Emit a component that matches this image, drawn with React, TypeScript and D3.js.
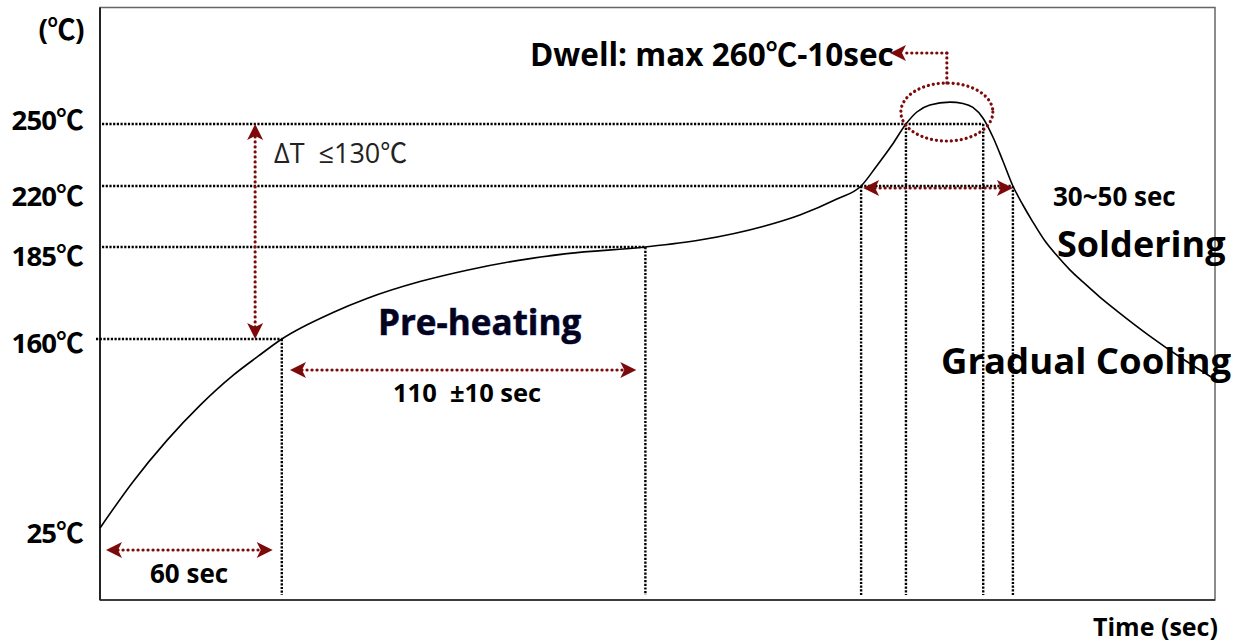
import React from 'react';
import * as d3 from 'd3';

// Reflow profile: time (sec) vs temperature (℃), schematic axis
const tempTicks = [25, 160, 185, 220, 250];
const tempTickLabels = ['25℃', '160℃', '185℃', '220℃', '250℃'];

const profileTime = [0, 10.9, 22.1, 33.0, 43.9, 52.2, 60, 76.9, 88.1, 105.6, 121.1, 137.6, 154.1, 180, 198.0, 218.8, 231.0, 243.2, 251.2, 256.1, 261.4, 266, 269.6, 273.9, 280.5, 284.8, 288.1, 291.4, 294.7, 298.0, 301.3, 304.6, 307.9, 311.9, 315.9, 320.1, 324.4, 330.0, 335.7, 346.5, 357.4, 367.3];
const profileTemp = [25, 58.1, 87.6, 112.6, 134.0, 147.7, 160, 167.2, 171.0, 175.6, 178.7, 181.3, 183.2, 185, 189.0, 196.8, 203.4, 212.5, 220, 229.2, 239.8, 250, 255.8, 259.2, 260.6, 259.9, 258.0, 252.9, 243.7, 232.1, 220, 209.1, 199.3, 188.4, 182.6, 178.8, 175.5, 171.4, 167.6, 160.8, 145.7, 132.1];

// key points where the dotted guides meet the curve
const guideTime = [60, 180, 251.2, 266, 291.5, 301.3];
const guideTemp = [160, 185, 220, 250, 250, 220];

const W = 1243;
const H = 642;
const plot = { left: 100, right: 1215, top: 7.5, bottom: 600 };
// pixel stops of the (non-linear) temperature axis
const yStops = [528, 339, 247, 186, 124];
const labelNudge = [4, 3, 8, 9, -5];

const RED = '#7d0a0a';
const FONT = "'Open Sans', 'Noto Sans CJK KR', sans-serif";

function Arrow({ x1, y1, x2, y2, both = true }: { x1: number; y1: number; x2: number; y2: number; both?: boolean }) {
  const a = Math.atan2(y2 - y1, x2 - x1);
  const deg = (a * 180) / Math.PI;
  const head = 'M0,0 L-16,-8 L-12,0 L-16,8 Z';
  const sx = both ? x1 + Math.cos(a) * 12 : x1;
  const sy = both ? y1 + Math.sin(a) * 12 : y1;
  const ex = x2 - Math.cos(a) * 12;
  const ey = y2 - Math.sin(a) * 12;
  return (
    <g>
      <line x1={sx} y1={sy} x2={ex} y2={ey} stroke={RED} strokeWidth={3.2} strokeDasharray="0.1 4.9" strokeLinecap="round" />
      <path d={head} fill={RED} transform={`translate(${x2},${y2}) rotate(${deg})`} />
      {both && <path d={head} fill={RED} transform={`translate(${x1},${y1}) rotate(${deg + 180})`} />}
    </g>
  );
}

export default function App() {
  const x = d3.scaleLinear().domain([0, 368]).range([plot.left, plot.right]);
  const y = d3.scaleLinear().domain(tempTicks).range(yStops);

  const pts: [number, number][] = profileTime.map((t, i) => [x(t), y(profileTemp[i])]);
  const line = d3.line().curve(d3.curveMonotoneX);

  const dotted = { stroke: '#000', strokeWidth: 2.4, strokeDasharray: '2.2 1.5', fill: 'none' };
  const guideBottom = plot.bottom - 5;

  // horizontal guide for each tick temperature runs to the last point at that temperature
  const hGuides = tempTicks.slice(1).map((T) => {
    const ts = guideTime.filter((_, i) => guideTemp[i] === T);
    return { T, t: d3.max(ts) as number };
  });

  const cx = x(279.5);
  const cy = y(255.8);
  const rx = 46;
  const ry = 29;

  const bold = { fontFamily: FONT, fontWeight: 700, fill: '#000' } as const;

  return (
    <svg width={W} height={H} style={{ position: 'absolute', left: 0, top: 0, background: '#fff' }}>
      <rect x={plot.left} y={plot.top} width={plot.right - plot.left} height={plot.bottom - plot.top} fill="none" stroke="#666" strokeWidth={1.5} />
      <line x1={plot.left} x2={plot.left} y1={plot.top} y2={plot.bottom} stroke="#000" strokeWidth={1.5} />
      <line x1={plot.left} x2={plot.right} y1={plot.bottom} y2={plot.bottom} stroke="#222" strokeWidth={1.5} />

      {/* dotted guides */}
      {hGuides.map((g) => (
        <line key={g.T} x1={g.T === 160 ? plot.left - 4 : plot.left + 2} x2={x(g.t)} y1={y(g.T)} y2={y(g.T)} {...dotted} />
      ))}
      {guideTime.map((t, i) => (
        <line key={i} x1={x(t)} x2={x(t)} y1={y(guideTemp[i])} y2={guideBottom} {...dotted} />
      ))}

      {/* profile */}
      <path d={line(pts) as string} fill="none" stroke="#000" strokeWidth={1.6} />

      {/* y tick labels */}
      {tempTicks.map((T, i) => (
        <text key={T} x={83} y={y(T) + labelNudge[i]} textAnchor="end" dominantBaseline="central" fontSize={27.5} {...bold} letterSpacing={-0.8}>
          {tempTickLabels[i]}
        </text>
      ))}
      <text x={84} y={29} textAnchor="end" dominantBaseline="central" fontSize={28} {...bold} letterSpacing={-0.5}>(℃)</text>

      {/* annotations */}
      <Arrow x1={x(51.2)} y1={y(160)} x2={x(51.2)} y2={y(250)} />
      <text x={274} y={152} dominantBaseline="central" fontSize={27} fontFamily={FONT} fill="#222" style={{ whiteSpace: 'pre' }}>{'ΔT  ≤130℃'}</text>

      <Arrow x1={106} y1={550} x2={x(57)} y2={550} />
      <text x={150} y={573} dominantBaseline="central" fontSize={26} {...bold}>60 sec</text>

      <Arrow x1={x(62.7)} y1={370} x2={x(177)} y2={370} />
      <text x={393} y={392} dominantBaseline="central" fontSize={25.5} {...bold} style={{ whiteSpace: 'pre' }}>{'110  ±10 sec'}</text>

      <text x={378} y={321} dominantBaseline="central" fontSize={35} fontFamily={FONT} fontWeight={700} fill="#03031a" stroke="#1c1c9a" strokeWidth={0.6} paintOrder="stroke">Pre-heating</text>

      <Arrow x1={x(251.2) + 2} y1={y(220) + 2} x2={x(301.3)} y2={y(220) + 2} />
      <text x={1053} y={196} dominantBaseline="central" fontSize={26} {...bold}>30~50 sec</text>
      <text x={1057} y={243} dominantBaseline="central" fontSize={36} {...bold}>Soldering</text>
      <text x={941} y={360} dominantBaseline="central" fontSize={36.5} {...bold}>Gradual Cooling</text>

      <ellipse cx={cx} cy={cy} rx={rx} ry={ry} fill="none" stroke={RED} strokeWidth={3.2} strokeDasharray="0.1 4.9" strokeLinecap="round" />
      <line x1={cx} y1={cy - ry} x2={cx} y2={53} stroke={RED} strokeWidth={3.2} strokeDasharray="0.1 4.9" strokeLinecap="round" />
      <Arrow x1={cx} y1={53} x2={890} y2={53} both={false} />
      <text x={530} y={53} dominantBaseline="central" fontSize={31.5} {...bold}>Dwell: max 260℃-10sec</text>

      <text x={1093} y={626} dominantBaseline="central" fontSize={25} {...bold}>Time (sec)</text>
    </svg>
  );
}
